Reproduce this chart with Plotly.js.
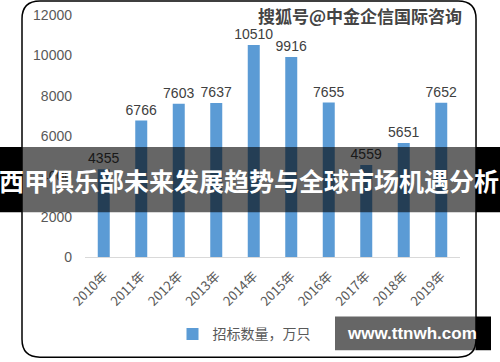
<!DOCTYPE html>
<html><head><meta charset="utf-8">
<script src="https://cdn.plot.ly/plotly-3.0.1.min.js"></script>
<style>html,body{margin:0;padding:0;background:#fff;}</style>
</head><body><div id="chart" style="width:500px;height:362px;"></div>
<script>
const years = ['2010年','2011年','2012年','2013年','2014年','2015年','2016年','2017年','2018年','2019年'];
const bids = [4355, 6766, 7603, 7637, 10510, 9916, 7655, 4559, 5651, 7652];
const seriesName = '招标数量，万只';
const bannerText = '西甲俱乐部未来发展趋势与全球市场机遇分析';
const watermark = '搜狐号@中金企信国际咨询';
const siteText = 'www.ttnwh.com';

// pixel -> paper helpers (plot area: x 85..460, y 15..259)
const L = 85, R = 460, T = 15, B = 259;
const px = v => (v - L) / (R - L);
const py = v => (B - v) / (B - T);

function roundRect(x0, y0, x1, y1, r) {
  const P = (x, y) => px(x).toFixed(4) + ',' + py(y).toFixed(4);
  return 'M' + P(x0 + r, y0) + ' L' + P(x1 - r, y0) + ' Q' + P(x1, y0) + ' ' + P(x1, y0 + r) +
    ' L' + P(x1, y1 - r) + ' Q' + P(x1, y1) + ' ' + P(x1 - r, y1) +
    ' L' + P(x0 + r, y1) + ' Q' + P(x0, y1) + ' ' + P(x0, y1 - r) +
    ' L' + P(x0, y0 + r) + ' Q' + P(x0, y0) + ' ' + P(x0 + r, y0) + ' Z';
}
function rect(x0, y0, x1, y1, color) {
  return {type: 'rect', xref: 'paper', yref: 'paper', layer: 'above',
    x0: px(x0), x1: px(x1), y0: py(y1), y1: py(y0), line: {width: 0}, fillcolor: color};
}

const trace = {
  type: 'bar', x: years, y: bids, name: seriesName,
  marker: {color: '#5B9BD5'},
  texttemplate: '%{y}', textposition: 'outside', cliponaxis: false, constraintext: 'none',
  textfont: {family: 'Liberation Sans, Arial, sans-serif', size: 14, color: '#404040'},
  showlegend: true, hoverinfo: 'skip'
};

const layout = {
  width: 500, height: 362,
  margin: {l: L, r: 500 - R, t: T, b: 362 - B},
  paper_bgcolor: '#ffffff', plot_bgcolor: '#ffffff',
  bargap: 0.68,
  font: {family: 'Liberation Sans, Arial, sans-serif', color: '#595959'},
  xaxis: {type: 'category', tickangle: -45, showline: false, showgrid: false, ticks: '',
    tickfont: {family: 'Noto Sans CJK SC, Liberation Sans, sans-serif', size: 13, color: '#595959'},
    ticklabelstandoff: 8, automargin: false},
  yaxis: {range: [0, 12000], dtick: 2000, tickformat: 'd', showgrid: false, showline: false, ticks: '',
    zeroline: true, zerolinecolor: '#d9d9d9', zerolinewidth: 1,
    tickfont: {size: 14, color: '#595959'}, ticklabelstandoff: 12, automargin: false},
  showlegend: true,
  legend: {orientation: 'h', x: px(244), xanchor: 'center', y: py(337), yanchor: 'middle',
    font: {family: 'Noto Sans CJK SC, sans-serif', size: 14, color: '#595959'},
    itemwidth: 30, bgcolor: 'rgba(0,0,0,0)'},
  shapes: [
    {type: 'path', xref: 'paper', yref: 'paper', layer: 'above', path: roundRect(22, 1, 476, 360, 18),
      line: {color: '#000000', width: 1.5}, fillcolor: 'rgba(0,0,0,0)'},
    rect(0, 148, 22, 214, '#000000'),
    rect(22, 148, 476, 214, 'rgba(0,0,0,0.6)'),
    rect(476, 148, 500, 214, '#000000'),
    rect(335, 319, 476, 353, 'rgba(0,0,0,0.6)'),
    rect(476, 319, 491, 353, '#000000')
  ],
  annotations: [
    {text: '<b>' + bannerText + '</b>', xref: 'paper', yref: 'paper', x: px(249), y: py(181),
      xanchor: 'center', yanchor: 'middle', showarrow: false,
      font: {family: 'Noto Sans CJK SC, sans-serif', size: 25, color: '#ffffff'}},
    {text: '<b>' + watermark + '</b>', xref: 'paper', yref: 'paper', x: px(360), y: py(15),
      xanchor: 'center', yanchor: 'middle', showarrow: false,
      font: {family: 'Noto Sans CJK SC, sans-serif', size: 17, color: '#444444',
        shadow: '1px 1px 1px #ffffff'}},
    {text: '<b>' + siteText + '</b>', xref: 'paper', yref: 'paper', x: px(412), y: py(336),
      xanchor: 'center', yanchor: 'middle', showarrow: false,
      font: {family: 'Liberation Sans, Arial, sans-serif', size: 17, color: '#ffffff'}}
  ]
};

Plotly.newPlot('chart', [trace], layout, {displayModeBar: false, staticPlot: true});
</script></body></html>
